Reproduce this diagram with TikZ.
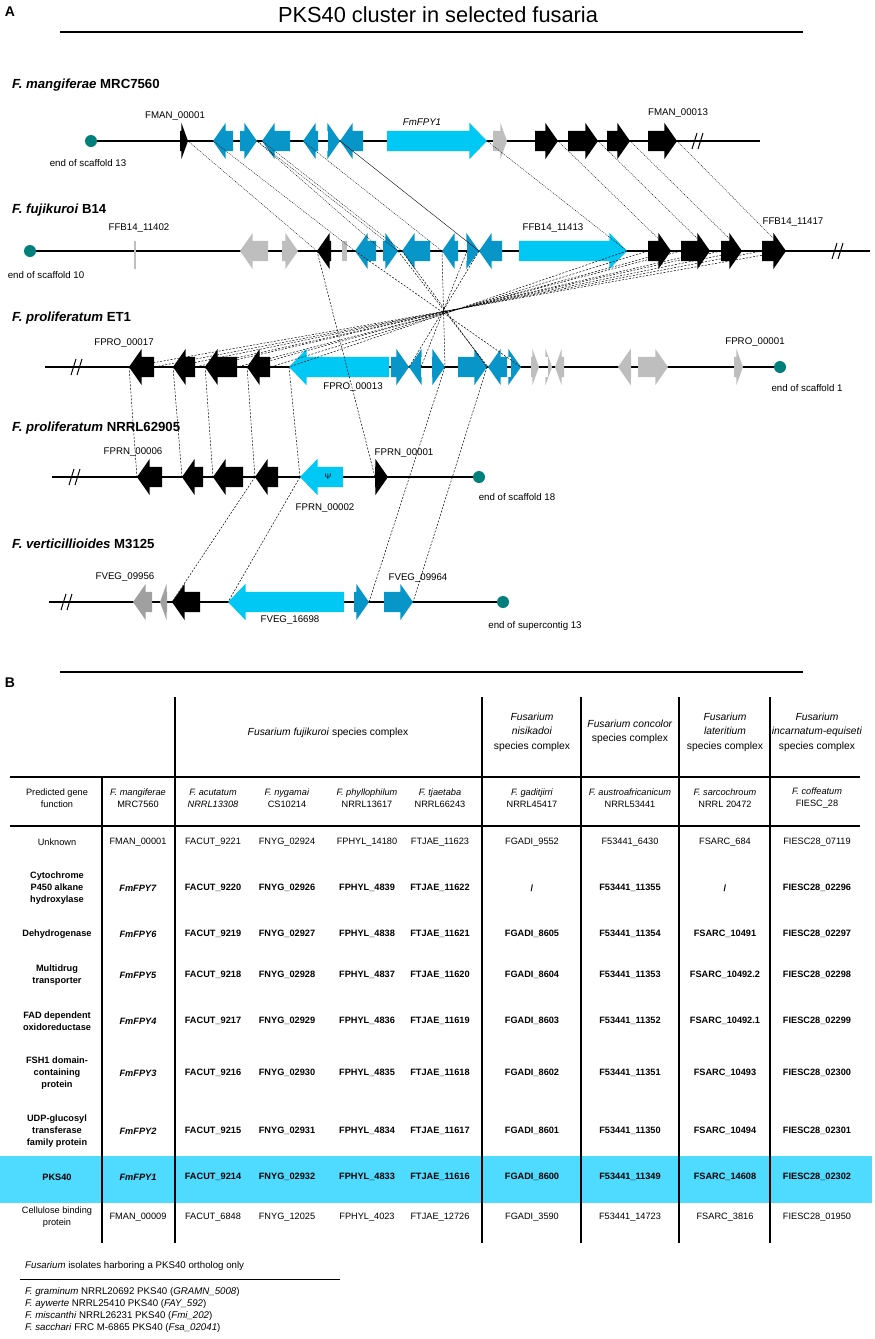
\documentclass[tikz,border=0pt]{standalone}
\usepackage{fontspec}
\setmainfont{Liberation Sans}
\setsansfont{Liberation Sans}
\usetikzlibrary{shapes.arrows}

\definecolor{geneblue}{RGB}{8,150,200}
\definecolor{genecyan}{RGB}{0,200,245}
\definecolor{genegray}{RGB}{190,190,190}
\definecolor{genegrey}{RGB}{160,160,160}
\definecolor{contigend}{RGB}{0,128,122}
\definecolor{pksrow}{RGB}{78,219,255}

\begin{document}
\begin{tikzpicture}
	[x=1pt, y=-1pt,
	every node/.style={inner sep=0pt, font=\fontsize{9.7}{11}\selectfont},
	gene/.style={single arrow, draw=none, inner xsep=0pt, inner ysep=10pt, outer sep=0pt,
		single arrow head extend=8pt, single arrow tip angle=110, anchor=tail},
	right gene/.style={gene},
	left gene/.style={gene, shape border rotate=180},
	short gene/.style={single arrow tip angle=140},
	pks/.style={single arrow tip angle=92, fill=genecyan},
	contig end/.style={circle, fill=contigend, minimum size=12},
	species/.style={anchor=west, font=\fontsize{13.2}{15}\selectfont\bfseries},
	dot link/.style={line width=.4pt, dash pattern=on 1pt off 1pt},
	dash link/.style={line width=.5pt, dash pattern=on 2pt off 1.5pt},
	rule/.style={line width=1.3pt},
	head/.style={align=center, font=\fontsize{10.3}{14.5}\selectfont},
	cell/.style={align=center, font=\fontsize{9.2}{12}\selectfont}]
	\useasboundingbox (0,0) rectangle (875,1339);

	\node (A) [font=\fontsize{14}{16}\selectfont\bfseries] at (10,12) {A};
	\node (title) [font=\fontsize{21.8}{24}\selectfont] at (438,15) {PKS40 cluster in selected fusaria};
	\draw [line width=1.5pt] (60,32) -- (803,32);

	\node (sp1) [species] at (12,85) {\textit{F. mangiferae} MRC7560};
	\node (sp2) [species] at (12,210) {\textit{F. fujikuroi} B14};
	\node (sp3) [species] at (12,318) {\textit{F. proliferatum} ET1};
	\node (sp4) [species] at (12,428) {\textit{F. proliferatum} NRRL62905};
	\node (sp5) [species] at (12,544) {\textit{F. verticillioides} M3125};

	\node (e1) [contig end] at (91,141) {};
	\node (e2) [contig end] at (30,251) {};
	\node (e3) [contig end] at (780,367) {};
	\node (e4) [contig end] at (479,477) {};
	\node (e5) [contig end] at (503,602) {};
	\draw [line width=2.2pt] (e1) -- (760,141);
	\draw [line width=2.2pt] (e2) -- (870,251);
	\draw [line width=2.2pt] (45,367) -- (e3);
	\draw [line width=2.2pt] (52,477) -- (e4);
	\draw [line width=2.2pt] (49,602) -- (e5);
	\foreach \x/\y in {698/141, 838/251, 77/367, 75/477, 67/602}
		\draw [line width=1pt] (\x-6,\y+8) -- (\x-1,\y-8) (\x,\y+8) -- (\x+5,\y-8);

	\node (le1) at (88,163) {end of scaffold 13};
	\node (le2) at (46,275) {end of scaffold 10};
	\node (le3) at (807,388) {end of scaffold 1};
	\node (le4) at (517,497) {end of scaffold 18};
	\node (le5) at (535,626) {end of supercontig 13};

	\node (m1) [right gene, short gene, fill=black, minimum height=8] at (180,141) {};
	\node (m2) [left gene, fill=geneblue, minimum height=20] at (233,141) {};
	\node (m3) [right gene, fill=geneblue, minimum height=17] at (240,141) {};
	\node (m4) [left gene, fill=geneblue, minimum height=28] at (290,141) {};
	\node (m5) [left gene, fill=geneblue, minimum height=15] at (318,141) {};
	\node (m6) [right gene, fill=geneblue, minimum height=12] at (328,141) {};
	\node (m7) [left gene, fill=geneblue, minimum height=23] at (363,141) {};
	\node (m8) [right gene, pks, minimum height=100] at (387,141) {};
	\node (m9) [right gene, short gene, fill=genegray, minimum height=14] at (493,141) {};
	\node (m10) [right gene, fill=black, minimum height=23] at (535,141) {};
	\node (m11) [right gene, fill=black, minimum height=30] at (568,141) {};
	\node (m12) [right gene, fill=black, minimum height=23] at (607,141) {};
	\node (m13) [right gene, fill=black, minimum height=29] at (648,141) {};
	\node (lm1) at (175,116) {FMAN\_00001};
	\node (lm8) at (422,122) {\textit{FmFPY1}};
	\node (lm13) at (678,113) {FMAN\_00013};

	\node (f0) [fill=genegray, minimum width=2, minimum height=28] at (135,255) {};
	\node (f1) [left gene, fill=genegray, minimum height=28] at (268,251) {};
	\node (f2) [right gene, fill=genegray, minimum height=16] at (282,251) {};
	\node (f3) [left gene, fill=black, minimum height=14] at (331,251) {};
	\node (f4) [fill=genegray, minimum width=5, minimum height=20] at (344,251) {};
	\node (f5) [left gene, fill=geneblue, minimum height=21] at (376,251) {};
	\node (f6) [right gene, fill=geneblue, minimum height=15] at (383,251) {};
	\node (f7) [left gene, fill=geneblue, minimum height=28] at (430,251) {};
	\node (f8) [left gene, fill=geneblue, minimum height=16] at (458,251) {};
	\node (f9) [right gene, fill=geneblue, minimum height=12] at (467,251) {};
	\node (f10) [left gene, fill=geneblue, minimum height=23] at (502,251) {};
	\node (f11) [right gene, pks, minimum height=108] at (519,251) {};
	\node (f12) [right gene, fill=black, minimum height=23] at (648,251) {};
	\node (f13) [right gene, fill=black, minimum height=29] at (681,251) {};
	\node (f14) [right gene, fill=black, minimum height=21] at (721,251) {};
	\node (f15) [right gene, fill=black, minimum height=24] at (762,251) {};
	\node (lf0) at (139,228) {FFB14\_11402};
	\node (lf11) at (553,228) {FFB14\_11413};
	\node (lf15) at (793,222) {FFB14\_11417};

	\node (p1) [left gene, fill=black, minimum height=25] at (154,367) {};
	\node (p2) [left gene, fill=black, minimum height=22] at (195,367) {};
	\node (p3) [left gene, fill=black, minimum height=32] at (237,367) {};
	\node (p4) [left gene, fill=black, minimum height=23] at (270,367) {};
	\node (p5) [left gene, pks, minimum height=100] at (389,367) {};
	\node (p6) [right gene, fill=geneblue, minimum height=18] at (391,367) {};
	\node (p7) [left gene, fill=geneblue, minimum height=12] at (421,367) {};
	\node (p8) [right gene, fill=geneblue, minimum height=13] at (432,367) {};
	\node (p9) [right gene, fill=geneblue, minimum height=29] at (458,367) {};
	\node (p10) [left gene, fill=geneblue, minimum height=19] at (507,367) {};
	\node (p11) [right gene, fill=geneblue, minimum height=10] at (511,367) {};
	\node (p12) [right gene, short gene, fill=genegray, minimum height=8] at (531,367) {};
	\node (p13) [right gene, short gene, fill=genegray, minimum height=4] at (548,367) {};
	\node (p14) [left gene, short gene, fill=genegray, minimum height=9] at (564,367) {};
	\node (p15) [left gene, fill=genegray, minimum height=13] at (631,367) {};
	\node (p16) [right gene, fill=genegray, minimum height=30] at (638,367) {};
	\node (p17) [right gene, short gene, fill=genegray, minimum height=9] at (734,367) {};
	\node (lp1) at (124,343) {FPRO\_00017};
	\node (lp5) at (353,387) {FPRO\_00013};
	\node (lp17) at (755,342) {FPRO\_00001};

	\node (n1) [left gene, fill=black, minimum height=25] at (162,477) {};
	\node (n2) [left gene, fill=black, minimum height=21] at (203,477) {};
	\node (n3) [left gene, fill=black, minimum height=30] at (243,477) {};
	\node (n4) [left gene, fill=black, minimum height=23] at (278,477) {};
	\node (n5) [left gene, pks, minimum height=43] at (343,477) {};
	\node (n6) [right gene, fill=black, minimum height=13] at (375,477) {};
	\node (psi) [font=\fontsize{8}{9}\selectfont] at (328,477) {Ψ};
	\node (ln1) at (133,452) {FPRN\_00006};
	\node (ln5) at (325,508) {FPRN\_00002};
	\node (ln6) at (404,453) {FPRN\_00001};

	\node (v1) [left gene, fill=genegrey, minimum height=19] at (152,602) {};
	\node (v2) [left gene, short gene, fill=genegrey, minimum height=7] at (167,602) {};
	\node (v3) [left gene, fill=black, minimum height=28] at (200,602) {};
	\node (v4) [left gene, pks, minimum height=116] at (344,602) {};
	\node (v5) [right gene, fill=geneblue, minimum height=15] at (354,602) {};
	\node (v6) [right gene, fill=geneblue, minimum height=29] at (384,602) {};
	\node (lv1) at (125,577) {FVEG\_09956};
	\node (lv4) at (290,620) {FVEG\_16698};
	\node (lv6) at (418,578) {FVEG\_09964};

	\draw [dot link] (m1.tip) -- (f3.tip);
	\draw [dot link] (m2.tip) -- (f5.tip);
	\draw [dot link] (m3.tip) -- (f6.tail);
	\draw [dot link] (m3.tip) -- (f6.tip);
	\draw [dot link] (m4.tip) -- (f7.tip);
	\draw [dot link] (m5.tip) -- (f8.tip);
	\draw [line width=.4pt] (m7.tip) -- (f10.tip);
	\draw [dot link] (m8.tip) -- (f11.tip);
	\draw [dot link] (m10.tip) -- (f12.tip);
	\draw [dot link] (m11.tip) -- (f13.tip);
	\draw [dot link] (m12.tip) -- (f14.tip);
	\draw [dot link] (m13.tip) -- (f15.tip);

	\draw [dash link] (f11.tip) -- (p5.tip);
	\draw [dash link] (f12.tail) -- (p4.tail);
	\draw [dash link] (f12.tip) -- (p4.tip);
	\draw [dash link] (f13.tail) -- (p3.tail);
	\draw [dash link] (f13.tip) -- (p3.tip);
	\draw [dash link] (f14.tail) -- (p2.tail);
	\draw [dash link] (f14.tip) -- (p2.tip);
	\draw [dash link] (f15.tail) -- (p1.tail);
	\draw [dash link] (f15.tip) -- (p1.tip);
	\draw [dash link] (f5.tip) -- (p11.tip);
	\draw [dash link] (f6.tip) -- (p10.tip);
	\draw [dash link] (f7.tip) -- (p9.tip);
	\draw [dash link] (f8.tip) -- (p8.tip);
	\draw [dash link] (f9.tail) -- (p7.tail);
	\draw [dash link] (f10.tip) -- (p6.tip);
	\draw [dash link] (f3.tip) -- (n6.tail);

	\draw [dash link] (p1.tip) -- (n1.tip);
	\draw [dash link] (p2.tip) -- (n2.tip);
	\draw [dash link] (p3.tip) -- (n3.tip);
	\draw [dash link] (p4.tip) -- (n4.tip);
	\draw [dash link] (p5.tip) -- (n5.tip);
	\draw [dash link] (p8.tip) -- (v5.tip);
	\draw [dash link] (p9.tip) -- (v6.tip);
	\draw [dash link] (n4.tip) -- (v3.tip);
	\draw [dash link] (n5.tip) -- (v4.tip);

	\node (B) [font=\fontsize{14}{16}\selectfont\bfseries] at (10,683) {B};
	\draw [line width=1.5pt] (60,672) -- (803,672);
	\fill [pksrow] (0,1156) rectangle (872,1203);
	\draw [rule] (10,777) -- (860,777) (10,826) -- (860,826);
	\draw [rule] (102,777) -- (102,1243);
	\foreach \x in {175,482,581,679,770}
		\draw [rule] (\x,697) -- (\x,1243);

	\node (g1) [head] at (328,733) {\textit{Fusarium fujikuroi} species complex};
	\node (g2) [head] at (532,732) {\textit{Fusarium}\\\textit{nisikadoi}\\species complex};
	\node (g3) [head] at (630,732) {\textit{Fusarium concolor}\\species complex};
	\node (g4) [head] at (725,732) {\textit{Fusarium}\\\textit{lateritium}\\species complex};
	\node (g5) [head] at (817,732) {\textit{Fusarium}\\\textit{incarnatum-equiseti}\\species complex};

	\node (h0) [cell] at (57,798) {Predicted gene\\function};
	\node (h1) [cell] at (138,798) {\textit{F. mangiferae}\\MRC7560};
	\node (h2) [cell] at (213,798) {\textit{F. acutatum}\\\textit{NRRL13308}};
	\node (h3) [cell] at (287,798) {\textit{F. nygamai}\\CS10214};
	\node (h4) [cell] at (367,798) {\textit{F. phyllophilum}\\NRRL13617};
	\node (h5) [cell] at (440,798) {\textit{F. tjaetaba}\\NRRL66243};
	\node (h6) [cell] at (532,798) {\textit{F. gaditjirri}\\NRRL45417};
	\node (h7) [cell] at (630,798) {\textit{F. austroafricanicum}\\NRRL53441};
	\node (h8) [cell] at (725,798) {\textit{F. sarcochroum}\\NRRL 20472};
	\node (h9) [cell] at (817,798) {\textit{F. coffeatum}\\FIESC\_28};

	\foreach \y/\w/\fn/\ma/\ac/\ny/\ph/\tj/\ga/\au/\sa/\co [count=\r] in {
		842/\mdseries/Unknown/FMAN\_00001/FACUT\_9221/FNYG\_02924/FPHYL\_14180/FTJAE\_11623/FGADI\_9552/F53441\_6430/FSARC\_684/FIESC28\_07119,
		888/\bfseries/{Cytochrome\\P450 alkane\\hydroxylase}/\textit{FmFPY7}/FACUT\_9220/FNYG\_02926/FPHYL\_4839/FTJAE\_11622/\slash/F53441\_11355/\slash/FIESC28\_02296,
		934/\bfseries/Dehydrogenase/\textit{FmFPY6}/FACUT\_9219/FNYG\_02927/FPHYL\_4838/FTJAE\_11621/FGADI\_8605/F53441\_11354/FSARC\_10491/FIESC28\_02297,
		975/\bfseries/{Multidrug\\transporter}/\textit{FmFPY5}/FACUT\_9218/FNYG\_02928/FPHYL\_4837/FTJAE\_11620/FGADI\_8604/F53441\_11353/FSARC\_10492.2/FIESC28\_02298,
		1021/\bfseries/{FAD dependent\\oxidoreductase}/\textit{FmFPY4}/FACUT\_9217/FNYG\_02929/FPHYL\_4836/FTJAE\_11619/FGADI\_8603/F53441\_11352/FSARC\_10492.1/FIESC28\_02299,
		1073/\bfseries/{FSH1 domain-\\containing\\protein}/\textit{FmFPY3}/FACUT\_9216/FNYG\_02930/FPHYL\_4835/FTJAE\_11618/FGADI\_8602/F53441\_11351/FSARC\_10493/FIESC28\_02300,
		1131/\bfseries/{UDP-glucosyl\\transferase\\family protein}/\textit{FmFPY2}/FACUT\_9215/FNYG\_02931/FPHYL\_4834/FTJAE\_11617/FGADI\_8601/F53441\_11350/FSARC\_10494/FIESC28\_02301,
		1177/\bfseries/PKS40/\textit{FmFPY1}/FACUT\_9214/FNYG\_02932/FPHYL\_4833/FTJAE\_11616/FGADI\_8600/F53441\_11349/FSARC\_14608/FIESC28\_02302,
		1217/\mdseries/{Cellulose binding\\protein}/FMAN\_00009/FACUT\_6848/FNYG\_12025/FPHYL\_4023/FTJAE\_12726/FGADI\_3590/F53441\_14723/FSARC\_3816/FIESC28\_01950}
	{
		\node (fn\r) [cell, font=\fontsize{9.2}{12}\selectfont\w] at (57,\y) {\fn};
		\foreach \x/\t in {138/\ma, 213/\ac, 287/\ny, 367/\ph, 440/\tj, 532/\ga, 630/\au, 725/\sa, 817/\co}
			\node (c\r-\x) [cell, font=\fontsize{9.2}{12}\selectfont\w] at (\x,\y) {\t};
	}

	\node (iso) [anchor=west] at (25,1266) {\textit{Fusarium} isolates harboring a PKS40 ortholog only};
	\draw [line width=1pt] (20,1279) -- (340,1279);
	\node (o1) [anchor=west] at (25,1292) {\textit{F. graminum} NRRL20692 PKS40 (\textit{GRAMN\_5008})};
	\node (o2) [anchor=west] at (25,1304) {\textit{F. aywerte} NRRL25410 PKS40 (\textit{FAY\_592})};
	\node (o3) [anchor=west] at (25,1316) {\textit{F. miscanthi} NRRL26231 PKS40 (\textit{Fmi\_202})};
	\node (o4) [anchor=west] at (25,1328) {\textit{F. sacchari} FRC M-6865 PKS40 (\textit{Fsa\_02041})};
\end{tikzpicture}
\end{document}
